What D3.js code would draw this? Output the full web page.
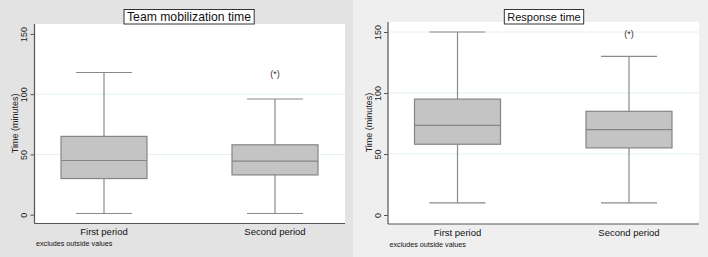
<!DOCTYPE html>
<html>
<head>
<meta charset="utf-8">
<script src="https://cdn.jsdelivr.net/npm/d3@7"></script>
<style>
  body { margin: 0; background: #fff; }
  svg { display: block; font-family: 'Liberation Sans', Arial, sans-serif; }
</style>
</head>
<body>
<svg id="chart" width="708" height="257"></svg>
<script>
// categories and box statistics
const periods = ['First period', 'Second period']
const yTicks = [0, 50, 100, 150]

const mobilizationLow = [1, 1]
const mobilizationQ1 = [30, 33]
const mobilizationMedian = [45, 44.5]
const mobilizationQ3 = [65, 58]
const mobilizationHigh = [118, 96]
const mobilizationMarker = [null, 117]

const responseLow = [10, 10]
const responseQ1 = [58, 55]
const responseMedian = [73.5, 70]
const responseQ3 = [95, 85]
const responseHigh = [150, 130]
const responseMarker = [null, 148]

const svg = d3.select('#chart')

/**
 * Draws one boxplot panel
 */
function drawPanel (opt) {
  const g = svg.append('g').attr('transform', `translate(${opt.x},0)`)

  g.append('rect')
    .attr('x', 0).attr('y', 0)
    .attr('width', opt.width).attr('height', 257)
    .attr('fill', opt.bg)

  const plot = opt.plot
  g.append('rect')
    .attr('x', plot.left).attr('y', plot.top)
    .attr('width', plot.right - plot.left).attr('height', plot.bottom - plot.top)
    .attr('fill', '#ffffff')

  const y = d3.scaleLinear().domain([0, 150]).range([plot.zero, plot.zero - 150 * opt.unit])
  const x = d3.scalePoint().domain(periods).range([plot.left + 69.5, plot.right - 70]).padding(0)

  // gridlines
  g.selectAll('.grid')
    .data(opt.grid)
    .enter().append('line')
    .attr('x1', plot.left + 1).attr('x2', plot.right)
    .attr('y1', d => y(d)).attr('y2', d => y(d))
    .attr('stroke', '#e3f0f0').attr('stroke-width', 1)

  // y axis
  const yAxis = g.append('g')
    .attr('transform', `translate(${plot.left},0)`)
    .call(d3.axisLeft(y).tickValues(yTicks).tickSize(4))
  yAxis.select('.domain').remove()
  yAxis.selectAll('line').attr('stroke', '#555')
  yAxis.selectAll('text')
    .attr('fill', '#222').attr('font-size', 9)
    .attr('x', 0).attr('y', 0).attr('dy', 0)
    .attr('text-anchor', 'middle')
    .attr('transform', 'translate(-7.5,0) rotate(-90)')

  g.append('line')
    .attr('x1', plot.left).attr('x2', plot.left)
    .attr('y1', plot.top).attr('y2', plot.bottom)
    .attr('stroke', '#555').attr('stroke-width', 1.2)
  g.append('line')
    .attr('x1', plot.left).attr('x2', plot.right)
    .attr('y1', plot.bottom).attr('y2', plot.bottom)
    .attr('stroke', '#555').attr('stroke-width', 1.2)

  g.append('text')
    .attr('transform', `translate(${plot.left - 16.5},${(y(0) + y(150)) / 2 - 1}) rotate(-90)`)
    .attr('text-anchor', 'middle')
    .attr('font-size', 9).attr('fill', '#222')
    .text('Time (minutes)')

  // boxes
  const boxW = 86
  const capW = 56
  periods.forEach((p, i) => {
    const cx = x(p)
    g.append('line')
      .attr('x1', cx).attr('x2', cx)
      .attr('y1', y(opt.high[i])).attr('y2', y(opt.low[i]))
      .attr('stroke', '#8a8a8a').attr('stroke-width', 1.2)
    g.selectAll(null)
      .data([opt.high[i], opt.low[i]])
      .enter().append('line')
      .attr('x1', cx - capW / 2).attr('x2', cx + capW / 2)
      .attr('y1', d => y(d)).attr('y2', d => y(d))
      .attr('stroke', '#8a8a8a').attr('stroke-width', 1.2)
    g.append('rect')
      .attr('x', cx - boxW / 2).attr('width', boxW)
      .attr('y', y(opt.q3[i])).attr('height', y(opt.q1[i]) - y(opt.q3[i]))
      .attr('fill', '#c4c4c4').attr('stroke', '#858585').attr('stroke-width', 1.2)
    g.append('line')
      .attr('x1', cx - boxW / 2).attr('x2', cx + boxW / 2)
      .attr('y1', y(opt.median[i])).attr('y2', y(opt.median[i]))
      .attr('stroke', '#858585').attr('stroke-width', 1.2)
    if (opt.marker[i] !== null) {
      g.append('text')
        .attr('x', cx).attr('y', y(opt.marker[i]) + 3)
        .attr('text-anchor', 'middle')
        .attr('font-size', 9).attr('fill', '#333')
        .text('(*)')
    }
    g.append('text')
      .attr('x', cx).attr('y', plot.bottom + 11.5)
      .attr('text-anchor', 'middle')
      .attr('font-size', 9.5).attr('fill', '#111')
      .text(p)
  })

  g.append('text')
    .attr('x', plot.left + 1.5).attr('y', plot.bottom + 22.5)
    .attr('font-size', 7.2).attr('fill', '#111')
    .text('excludes outside values')

  // title in a box
  const title = g.append('text')
    .attr('x', opt.titleX).attr('y', opt.titleY)
    .attr('text-anchor', 'middle')
    .attr('font-size', opt.titleSize).attr('fill', '#111')
    .text(opt.title)
  const bb = title.node().getBBox()
  g.insert('rect', () => title.node())
    .attr('x', bb.x - 3).attr('y', 9.5)
    .attr('width', bb.width + 6).attr('height', 14.5)
    .attr('fill', '#ffffff').attr('stroke', '#333').attr('stroke-width', 1)
}

drawPanel({
  x: 0,
  width: 353,
  bg: '#e3e3e3',
  plot: { left: 34.5, right: 345, top: 24, bottom: 223.5, zero: 214.7 },
  unit: 1.205,
  grid: [50, 100],
  title: 'Team mobilization time',
  titleX: 189,
  titleY: 21,
  titleSize: 12.2,
  low: mobilizationLow,
  q1: mobilizationQ1,
  median: mobilizationMedian,
  q3: mobilizationQ3,
  high: mobilizationHigh,
  marker: mobilizationMarker
})

drawPanel({
  x: 353,
  width: 355,
  bg: '#efefef',
  plot: { left: 35, right: 346, top: 22, bottom: 224, zero: 215 },
  unit: 1.22,
  grid: [50, 100, 150],
  title: 'Response time',
  titleX: 191,
  titleY: 20.5,
  titleSize: 11,
  low: responseLow,
  q1: responseQ1,
  median: responseMedian,
  q3: responseQ3,
  high: responseHigh,
  marker: responseMarker
})
</script>
</body>
</html>
